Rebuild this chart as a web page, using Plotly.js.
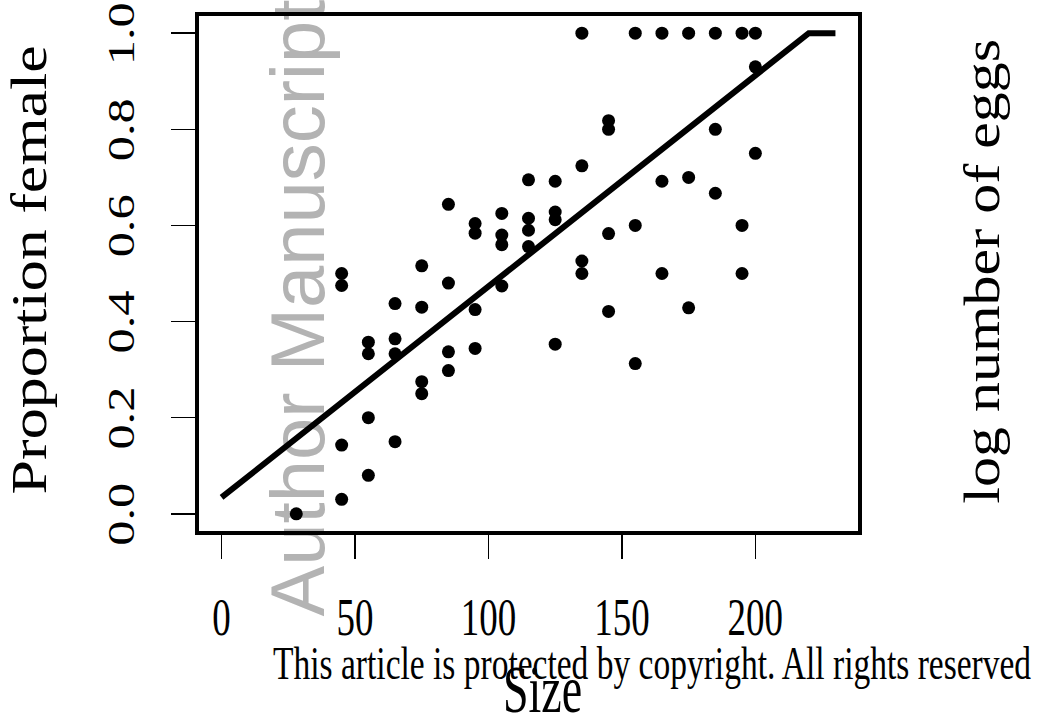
<!DOCTYPE html>
<html>
<head>
<meta charset="utf-8">
<script src="https://cdn.plot.ly/plotly-3.0.1.min.js"></script>
<style>
  html, body { margin: 0; padding: 0; background: #ffffff; overflow: hidden; }
  #chart { width: 1037px; height: 721px; }
</style>
</head>
<body>
<div id="chart"></div>
<script>
// ---- data ----
const sizeVals = [
  28,
  45, 45, 45, 45,
  55, 55, 55, 55,
  65, 65, 65, 65,
  75, 75, 75, 75,
  85, 85, 85, 85,
  95, 95, 95, 95,
  105, 105, 105, 105,
  115, 115, 115, 115,
  125, 125, 125, 125,
  135, 135, 135, 135,
  145, 145, 145, 145,
  155, 155, 155,
  165, 165, 165,
  175, 175, 175,
  185, 185, 185,
  195, 195, 195,
  200, 200, 200
];
const propFemale = [
  0.0,
  0.5, 0.475, 0.143, 0.03,
  0.357, 0.333, 0.2, 0.08,
  0.4375, 0.364, 0.333, 0.15,
  0.516, 0.43, 0.275, 0.25,
  0.644, 0.48, 0.337, 0.298,
  0.604, 0.584, 0.425, 0.344,
  0.625, 0.58, 0.56, 0.474,
  0.695, 0.615, 0.59, 0.556,
  0.692, 0.628, 0.612, 0.353,
  1.0, 0.724, 0.526, 0.5,
  0.818, 0.8, 0.583, 0.421,
  1.0, 0.6, 0.3125,
  1.0, 0.692, 0.5,
  1.0, 0.7, 0.4286,
  1.0, 0.8, 0.667,
  1.0, 0.6, 0.5,
  1.0, 0.93, 0.75
];
// fitted line
const fitSize = [0, 220, 230];
const fitProp = [0.034, 1.0, 1.0];

const xTickVals = [0, 50, 100, 150, 200];
const xTickText = ['0', '50', '100', '150', '200'];
const yTickVals = [0, 0.2, 0.4, 0.6, 0.8, 1.0];
const yTickText = ['0.0', '0.2', '0.4', '0.6', '0.8', '1.0'];

const xLabel = 'Size';
const yLabel = 'Proportion female';
const rightLabel = 'log number of eggs';
const notice = 'This article is protected by copyright. All rights reserved';
const watermark = 'Author Manuscript';

// ---- layout geometry (pixels) ----
const W = 1037, H = 721;
const L = 197, R = 177, T = 14, B = 188;
const PW = W - L - R, PH = H - T - B;
const px = x => (x - L) / PW;          // pixel x -> paper x
const py = y => (H - B - y) / PH;      // pixel y -> paper y

const serif = '"Liberation Serif", "Times New Roman", Times, serif';

const traces = [
  {
    x: fitSize, y: fitProp, type: 'scatter', mode: 'lines',
    line: { color: '#000000', width: 6 },
    hoverinfo: 'skip', showlegend: false
  },
  {
    x: sizeVals, y: propFemale, type: 'scatter', mode: 'markers',
    marker: { color: '#000000', size: 13, line: { width: 0 } },
    showlegend: false
  }
];

const layout = {
  width: W, height: H,
  margin: { l: L, r: R, t: T, b: B, pad: 0 },
  paper_bgcolor: '#ffffff', plot_bgcolor: 'rgba(0,0,0,0)',
  showlegend: false,
  font: { family: serif, color: '#000000' },
  xaxis: {
    range: [-9.2, 239.2], showgrid: false, zeroline: false, showline: false,
    tickmode: 'array', tickvals: xTickVals, ticktext: xTickText,
    ticks: 'outside', ticklen: 25, tickwidth: 1.5, tickcolor: '#000000',
    tickfont: { family: serif, size: 37, color: '#000000' },
    ticklabelstandoff: 26, fixedrange: true
  },
  yaxis: {
    range: [-0.04, 1.04], showgrid: false, zeroline: false, showline: false,
    tickmode: 'array', tickvals: yTickVals, ticktext: yTickText,
    ticks: 'outside', ticklen: 25, tickwidth: 1.5, tickcolor: '#000000',
    tickangle: -90,
    tickfont: { family: serif, size: 37, color: '#000000' },
    ticklabelstandoff: 22, fixedrange: true
  },
  shapes: [
    {
      type: 'rect', xref: 'paper', yref: 'paper', x0: 0, x1: 1, y0: 0, y1: 1,
      line: { color: '#000000', width: 4 }, fillcolor: 'rgba(0,0,0,0)', layer: 'above'
    },
    {
      type: 'line', xref: 'paper', yref: 'paper',
      x0: px(333), x1: px(333), y0: py(311), y1: py(311),
      line: { width: 0 }, layer: 'below',
      label: {
        text: watermark, textangle: -90, textposition: 'middle center',
        font: { family: '"Liberation Sans", Arial, sans-serif', size: 76, color: '#b3b3b3' }
      }
    }
  ],
  annotations: [
    {
      text: yLabel, xref: 'paper', yref: 'paper', x: px(29), y: py(270),
      xanchor: 'center', yanchor: 'middle', textangle: -90, showarrow: false,
      font: { family: serif, size: 50, color: '#000000' }
    },
    {
      text: rightLabel, xref: 'paper', yref: 'paper', x: px(982), y: py(272),
      xanchor: 'center', yanchor: 'middle', textangle: -90, showarrow: false,
      font: { family: serif, size: 50, color: '#000000' }
    },
    {
      text: xLabel, xref: 'paper', yref: 'paper', x: px(542), y: py(690),
      xanchor: 'center', yanchor: 'middle', showarrow: false,
      font: { family: serif, size: 46, color: '#000000' }
    },
    {
      text: notice, xref: 'paper', yref: 'paper', x: px(652), y: py(663),
      xanchor: 'center', yanchor: 'middle', showarrow: false,
      font: { family: serif, size: 33.5, color: '#000000' }
    }
  ]
};

// The reference's serif texts are drawn taller than their width would give
// (a vertical stretch on the page); reproduce it with a screen-space scale,
// optionally followed by a small screen-space shift.
function stretchY(el, s, dy) {
  try {
    const r = el.getBoundingClientRect();
    const cx = r.left + r.width / 2, cy = r.top + r.height / 2;
    const P = DOMMatrix.fromMatrix(el.parentNode.getScreenCTM());
    const base = el.transform.baseVal.consolidate();
    const Tm = base ? DOMMatrix.fromMatrix(base.matrix) : new DOMMatrix();
    const S = new DOMMatrix().translate(0, dy || 0)
      .translate(cx, cy).scale(1, s).translate(-cx, -cy);
    const M = P.inverse().multiply(S).multiply(P).multiply(Tm);
    el.setAttribute('transform', `matrix(${M.a},${M.b},${M.c},${M.d},${M.e},${M.f})`);
  } catch (e) { /* leave text as drawn */ }
}

Plotly.newPlot('chart', traces, layout, { staticPlot: true, displayModeBar: false }).then(gd => {
  gd.querySelectorAll('.xtick text').forEach(t => stretchY(t, 1.45, 0));
  gd.querySelectorAll('.ytick text').forEach(t => stretchY(t, 1.36, 6));
  const ann = gd.querySelectorAll('.annotation-text');
  const factors = [1.24, 1.2, 1.48, 1.38];
  ann.forEach((t, i) => stretchY(t, factors[i] || 1, 0));
});
</script>
</body>
</html>
